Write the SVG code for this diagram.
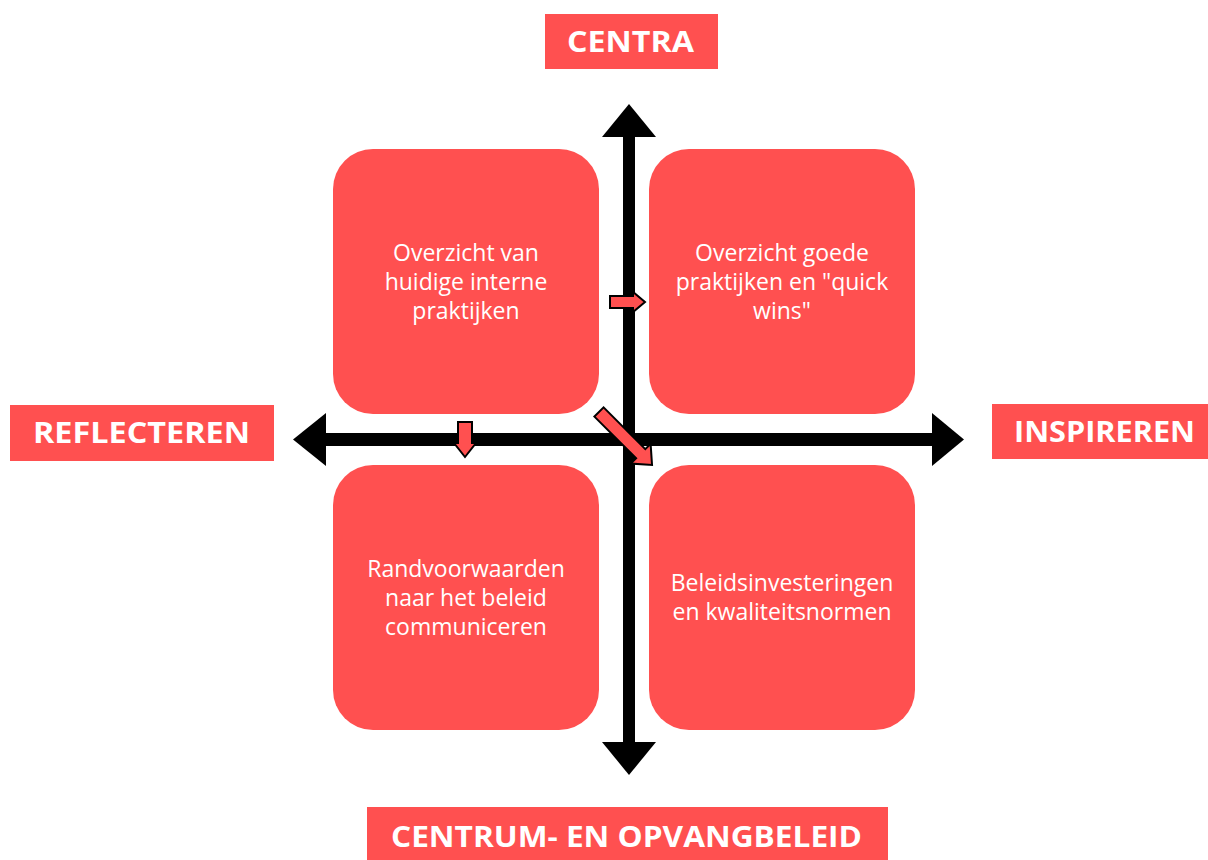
<svg xmlns="http://www.w3.org/2000/svg" width="1208" height="860" viewBox="0 0 1208 860">
<style>
.box{fill:#FF5050}
.lbl{fill:#FF5050}
.t{font-family:"Open Sans","Liberation Sans",sans-serif;font-size:23px;fill:#fff;text-anchor:middle}
.h{font-family:"Open Sans","Liberation Sans",sans-serif;font-size:29px;font-weight:700;fill:#fff;text-anchor:middle}
.ax{fill:#000}
.sm{fill:#FF5050;stroke:#000;stroke-width:2;stroke-linejoin:miter}
</style>
<rect width="1208" height="860" fill="#fff"/>
<g id="label-centra"><rect class="lbl" x="545" y="14" width="173" height="55"/><text class="h" x="630.5" y="52" textLength="127" lengthAdjust="spacingAndGlyphs">CENTRA</text></g>
<g id="label-reflecteren"><rect class="lbl" x="10" y="405" width="264" height="56"/><text class="h" x="141.5" y="443" textLength="217" lengthAdjust="spacingAndGlyphs">REFLECTEREN</text></g>
<g id="label-inspireren"><rect class="lbl" x="992" y="404" width="216" height="55"/><text class="h" x="1104.5" y="442" textLength="181" lengthAdjust="spacingAndGlyphs">INSPIREREN</text></g>
<g id="label-centrum"><rect class="lbl" x="367" y="807" width="521" height="53"/><text class="h" x="626.5" y="847" textLength="471" lengthAdjust="spacingAndGlyphs">CENTRUM- EN OPVANGBELEID</text></g>
<g id="box-tl"><rect class="box" x="333" y="149" width="266" height="265" rx="40"/><text class="t" x="466" y="261">Overzicht van</text><text class="t" x="466" y="290">huidige interne</text><text class="t" x="466" y="319">praktijken</text></g>
<g id="box-tr"><rect class="box" x="649" y="149" width="266" height="265" rx="40"/><text class="t" x="782" y="261">Overzicht goede</text><text class="t" x="782" y="290">praktijken en "quick</text><text class="t" x="782" y="319">wins"</text></g>
<g id="box-bl"><rect class="box" x="333" y="465" width="266" height="265" rx="40"/><text class="t" x="466" y="577">Randvoorwaarden</text><text class="t" x="466" y="606">naar het beleid</text><text class="t" x="466" y="635">communiceren</text></g>
<g id="box-br"><rect class="box" x="649" y="465" width="266" height="265" rx="40"/><text class="t" x="782" y="591">Beleidsinvesteringen</text><text class="t" x="782" y="620">en kwaliteitsnormen</text></g>
<g id="connectors">
<rect class="ax" x="623" y="136" width="12" height="607"/>
<polygon class="ax" points="602,137 629,104 656,137"/>
<polygon class="ax" points="602,742 629,775 656,742"/>
<rect class="ax" x="325" y="433" width="608" height="13"/>
<polygon class="ax" points="326,413 293,439.5 326,466"/>
<polygon class="ax" points="932,413 964,439.5 932,466"/>
<path class="sm" d="M610,296 H633 V292 L645,302 L633,312 V308 H610 Z"/>
<path class="sm" d="M458,422 H472 V443 H476 L465,457 L454,443 H458 Z"/>
<path class="sm" transform="translate(599,412) rotate(45)" d="M0,-6.5 H59 V-14 L75,0 L59,14 V6.5 H0 Z"/>
</g>
</svg>
